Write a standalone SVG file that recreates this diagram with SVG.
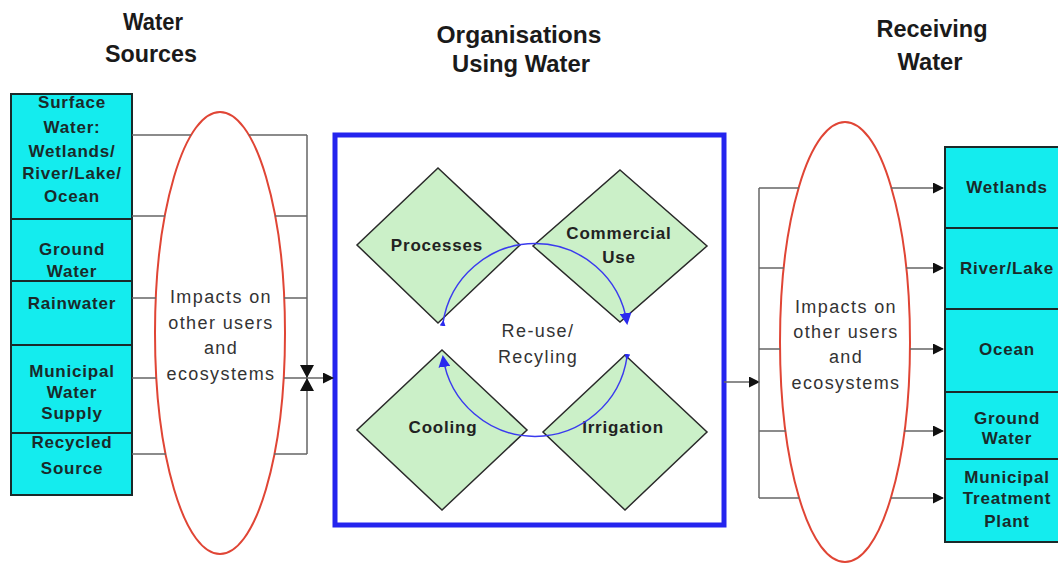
<svg xmlns="http://www.w3.org/2000/svg" width="1058" height="563" viewBox="0 0 1058 563">
  <style>
    .title { font-family: "Liberation Sans", Arial, sans-serif; font-weight: bold; font-size: 24px; fill: #1a1a1a; text-anchor: middle; }
    .box { fill: #14ecee; stroke: #1a2a2a; stroke-width: 2; }
    .boxtxt { font-family: "Liberation Sans", Arial, sans-serif; font-weight: bold; font-size: 17px; letter-spacing: 0.8px; fill: #1a2a2a; text-anchor: middle; dominant-baseline: central; }
    .oval { fill: #ffffff; stroke: #e04535; stroke-width: 2; }
    .ovaltxt { font-family: "Liberation Sans", Arial, sans-serif; font-size: 18px; letter-spacing: 1.4px; fill: #333333; text-anchor: middle; dominant-baseline: central; }
    .diamond { fill: #cbf0c8; stroke: #2a2a2a; stroke-width: 1.5; }
    .dtxt { font-family: "Liberation Sans", Arial, sans-serif; font-weight: bold; font-size: 17px; letter-spacing: 0.8px; fill: #222222; text-anchor: middle; dominant-baseline: central; }
    .wire { fill: none; stroke: #666666; stroke-width: 1.5; }
    .cycle { fill: none; stroke: #3a3aee; stroke-width: 1.5; }
  </style>
  <defs>
    <marker id="arrow" markerWidth="11" markerHeight="11" refX="10" refY="5.5" orient="auto" markerUnits="userSpaceOnUse">
      <path d="M0,0 L11,5.5 L0,11 Z" fill="#111111"/>
    </marker>
    <marker id="bluehead" markerWidth="12" markerHeight="12" refX="10" refY="6" orient="auto" markerUnits="userSpaceOnUse">
      <path d="M0,0 L12,6 L0,12 Z" fill="#2a2aee"/>
    </marker>
    <marker id="bluedot" markerWidth="6" markerHeight="6" refX="3" refY="3" orient="auto" markerUnits="userSpaceOnUse">
      <path d="M0,0 L6,3 L0,6 Z" fill="#2a2aee"/>
    </marker>
  </defs>

  <rect width="1058" height="563" fill="#ffffff"/>

  <!-- column headings -->
  <g id="headings">
    <text class="title" x="153" y="30" textLength="60" lengthAdjust="spacingAndGlyphs">Water</text>
    <text class="title" x="151" y="62" textLength="92" lengthAdjust="spacingAndGlyphs">Sources</text>
    <text class="title" x="519" y="43" textLength="165" lengthAdjust="spacingAndGlyphs">Organisations</text>
    <text class="title" x="521" y="72" textLength="138" lengthAdjust="spacingAndGlyphs">Using Water</text>
    <text class="title" x="932" y="37" textLength="111" lengthAdjust="spacingAndGlyphs">Receiving</text>
    <text class="title" x="930" y="70" textLength="65" lengthAdjust="spacingAndGlyphs">Water</text>
  </g>

  <!-- water sources -->
  <g id="source-surface">
    <rect class="box" x="11" y="94" width="121" height="125"/>
    <text class="boxtxt" x="72" y="102">Surface</text>
    <text class="boxtxt" x="72" y="127">Water:</text>
    <text class="boxtxt" x="72" y="151">Wetlands/</text>
    <text class="boxtxt" x="72" y="173">River/Lake/</text>
    <text class="boxtxt" x="72" y="196">Ocean</text>
  </g>
  <g id="source-ground">
    <rect class="box" x="11" y="219" width="121" height="62"/>
    <text class="boxtxt" x="72" y="249">Ground</text>
    <text class="boxtxt" x="72" y="271">Water</text>
  </g>
  <g id="source-rain">
    <rect class="box" x="11" y="281" width="121" height="64"/>
    <text class="boxtxt" x="72" y="303">Rainwater</text>
  </g>
  <g id="source-municipal">
    <rect class="box" x="11" y="345" width="121" height="88"/>
    <text class="boxtxt" x="72" y="371">Municipal</text>
    <text class="boxtxt" x="72" y="392">Water</text>
    <text class="boxtxt" x="72" y="413">Supply</text>
  </g>
  <g id="source-recycled">
    <rect class="box" x="11" y="433" width="121" height="62"/>
    <text class="boxtxt" x="72" y="442">Recycled</text>
    <text class="boxtxt" x="72" y="468">Source</text>
  </g>

  <!-- upstream impacts -->
  <g id="impacts-upstream">
    <ellipse class="oval" cx="220" cy="333" rx="65" ry="221"/>
    <text class="ovaltxt" x="221" y="297">Impacts on</text>
    <text class="ovaltxt" x="221" y="323">other users</text>
    <text class="ovaltxt" x="221" y="348">and</text>
    <text class="ovaltxt" x="221" y="374">ecosystems</text>
  </g>

  <!-- organisation using water -->
  <g id="organisation">
    <rect x="335" y="135" width="389" height="390" fill="none" stroke="#2424ee" stroke-width="5"/>
    <text class="ovaltxt" x="538" y="331" fill="#2a2a2a">Re-use/</text>
    <text class="ovaltxt" x="538" y="357" fill="#2a2a2a">Recyling</text>
  </g>
  <g id="use-processes">
    <polygon class="diamond" points="438,168 520,245 438,323 357,245"/>
    <text class="dtxt" x="437" y="245" font-size="16" letter-spacing="0.4">Processes</text>
  </g>
  <g id="use-commercial">
    <polygon class="diamond" points="620,170 707,246 620,322 533,246"/>
    <text class="dtxt" x="619" y="233">Commercial</text>
    <text class="dtxt" x="619" y="257">Use</text>
  </g>
  <g id="use-cooling">
    <polygon class="diamond" points="442,350 527,430 442,510 357,430"/>
    <text class="dtxt" x="443" y="427">Cooling</text>
  </g>
  <g id="use-irrigation">
    <polygon class="diamond" points="625,355 707,432 625,510 543,432"/>
    <text class="dtxt" x="623" y="427">Irrigation</text>
  </g>

  <!-- downstream impacts -->
  <g id="impacts-downstream">
    <ellipse class="oval" cx="845" cy="342" rx="65" ry="220"/>
    <text class="ovaltxt" x="846" y="307">Impacts on</text>
    <text class="ovaltxt" x="846" y="332">other users</text>
    <text class="ovaltxt" x="846" y="357">and</text>
    <text class="ovaltxt" x="846" y="383">ecosystems</text>
  </g>

  <!-- receiving water -->
  <g id="recv-wetlands">
    <rect class="box" x="945" y="147" width="120" height="81"/>
    <text class="boxtxt" x="1007" y="187">Wetlands</text>
  </g>
  <g id="recv-river">
    <rect class="box" x="945" y="228" width="120" height="81"/>
    <text class="boxtxt" x="1007" y="268">River/Lake</text>
  </g>
  <g id="recv-ocean">
    <rect class="box" x="945" y="309" width="120" height="83"/>
    <text class="boxtxt" x="1007" y="349">Ocean</text>
  </g>
  <g id="recv-ground">
    <rect class="box" x="945" y="392" width="120" height="67"/>
    <text class="boxtxt" x="1007" y="418">Ground</text>
    <text class="boxtxt" x="1007" y="438">Water</text>
  </g>
  <g id="recv-treatment">
    <rect class="box" x="945" y="459" width="120" height="83"/>
    <text class="boxtxt" x="1007" y="477">Municipal</text>
    <text class="boxtxt" x="1007" y="498">Treatment</text>
    <text class="boxtxt" x="1007" y="521">Plant</text>
  </g>

  <!-- connectors: feeder lines stop at the impact ovals and resume beyond them -->
  <g id="connectors">
    <!-- sources into collector -->
    <path class="wire" d="M132,135 H191 M249,135 H307 M132,216 H165 M275,216 H307 M132,298 H156 M284,298 H307 M132,378 H156 M284,378 H307 M132,454 H166 M274,454 H307 M307,135 V454"/>
    <!-- valve on the feed -->
    <path d="M300,365 L314,365 L307,378 Z M300,391 L314,391 L307,378 Z" fill="#111111"/>
    <path class="wire" d="M307,378 H333" marker-end="url(#arrow)"/>
    <!-- outflow to receivers -->
    <path class="wire" d="M724,382 H759" marker-end="url(#arrow)"/>
    <path class="wire" d="M759,188 V498"/>
    <path class="wire" d="M759,188 H799 M891,188 H943" marker-end="url(#arrow)"/>
    <path class="wire" d="M759,268 H784 M906,268 H943" marker-end="url(#arrow)"/>
    <path class="wire" d="M759,349 H780 M910,349 H943" marker-end="url(#arrow)"/>
    <path class="wire" d="M759,431 H786 M904,431 H943" marker-end="url(#arrow)"/>
    <path class="wire" d="M759,498 H799 M891,498 H943" stroke-width="2.5" marker-end="url(#arrow)"/>
    <!-- re-use cycle between the four uses -->
    <path class="cycle" d="M443,323 A93,93 0 0 1 627,323" marker-start="url(#bluedot)" marker-end="url(#bluehead)"/>
    <path class="cycle" d="M627,357 A93,93 0 0 1 443,357" marker-start="url(#bluedot)" marker-end="url(#bluehead)"/>
  </g>
</svg>
